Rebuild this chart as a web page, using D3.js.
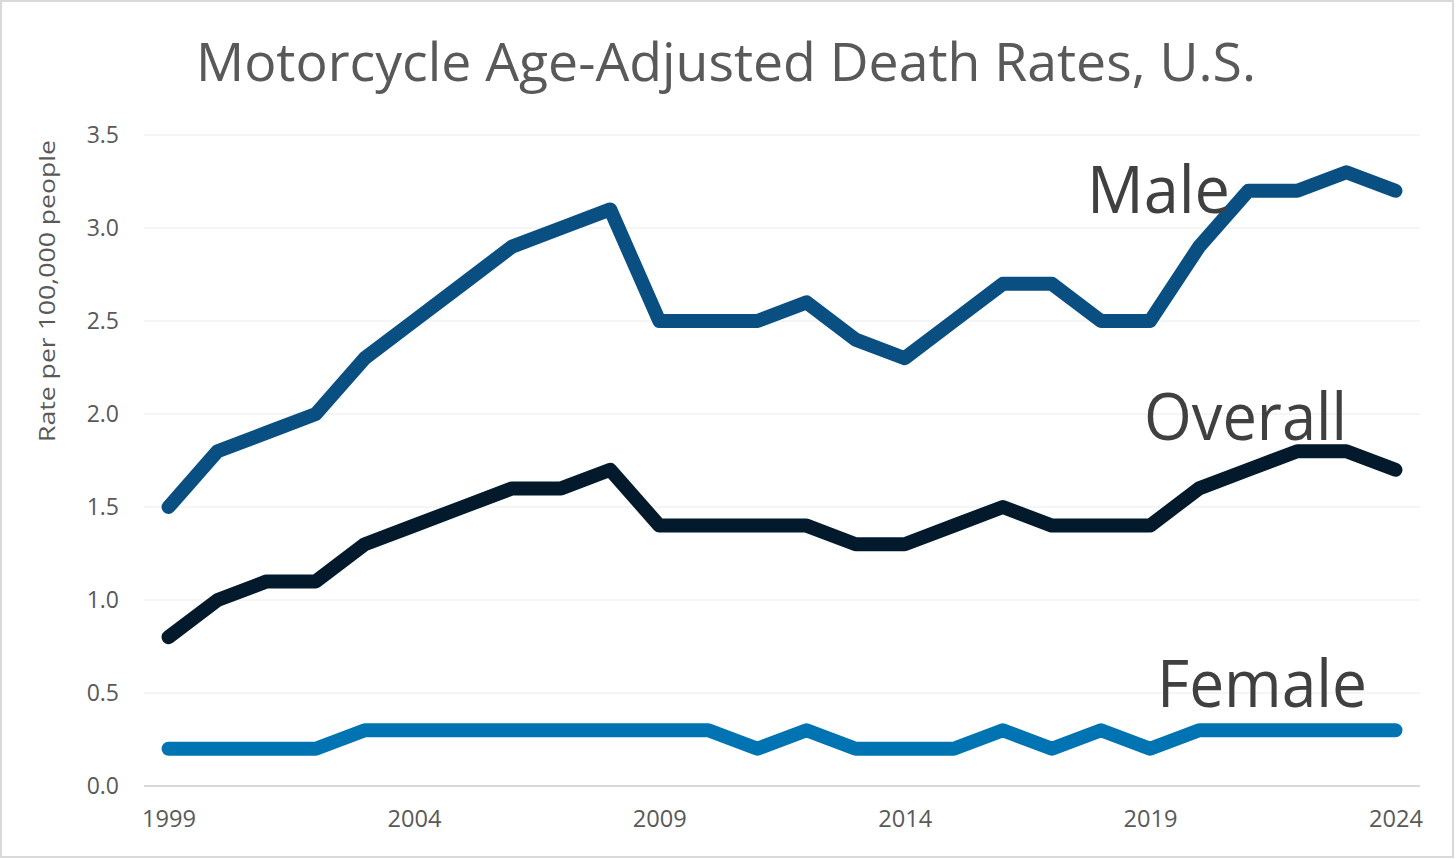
<!DOCTYPE html>
<html>
<head>
<meta charset="utf-8">
<script src="https://cdn.jsdelivr.net/npm/d3@7"></script>
<style>
  body { margin: 0; background: #fff; }
  svg { display: block; }
</style>
</head>
<body>
<svg id="chart" width="1456" height="859"></svg>
<script>
// data
var years = d3.range(1999, 2025);
var male = [1.5, 1.8, 1.9, 2.0, 2.3, 2.5, 2.7, 2.9, 3.0, 3.1, 2.5, 2.5, 2.5, 2.6, 2.4, 2.3, 2.5, 2.7, 2.7, 2.5, 2.5, 2.9, 3.2, 3.2, 3.3, 3.2];
var overall = [0.8, 1.0, 1.1, 1.1, 1.3, 1.4, 1.5, 1.6, 1.6, 1.7, 1.4, 1.4, 1.4, 1.4, 1.3, 1.3, 1.4, 1.5, 1.4, 1.4, 1.4, 1.6, 1.7, 1.8, 1.8, 1.7];
var female = [0.2, 0.2, 0.2, 0.2, 0.3, 0.3, 0.3, 0.3, 0.3, 0.3, 0.3, 0.3, 0.2, 0.3, 0.2, 0.2, 0.2, 0.3, 0.2, 0.3, 0.2, 0.3, 0.3, 0.3, 0.3, 0.3];
var yTicks = [0, 0.5, 1.0, 1.5, 2.0, 2.5, 3.0, 3.5];
var xTicks = [1999, 2004, 2009, 2014, 2019, 2024];

var svg = d3.select("#chart"),
    width = +svg.attr("width"),
    height = +svg.attr("height");

var font = "'Open Sans', 'Noto Sans', sans-serif";

// outer frame
svg.append("rect")
    .attr("x", 1).attr("y", 1)
    .attr("width", width - 4).attr("height", height - 3)
    .attr("fill", "#fff")
    .attr("stroke", "#d9d9d9")
    .attr("stroke-width", 2);

var x = d3.scalePoint()
    .domain(years)
    .range([144, 1420])
    .padding(0.5);

var y = d3.scaleLinear()
    .domain([0, 3.5])
    .range([786, 135]);

// gridlines
svg.append("g")
    .selectAll("line")
    .data(yTicks.filter(function (d) { return d > 0; }))
    .enter()
    .append("line")
    .attr("x1", 144).attr("x2", 1420)
    .attr("y1", function (d) { return y(d); })
    .attr("y2", function (d) { return y(d); })
    .attr("stroke", "#ebebeb")
    .attr("stroke-width", 1);

// y axis labels
var yAxis = svg.append("g")
    .attr("transform", "translate(119,0)")
    .call(d3.axisLeft(y).tickValues(yTicks).tickFormat(d3.format(".1f")).tickSize(0).tickPadding(0));
yAxis.select(".domain").remove();
yAxis.selectAll("text")
    .attr("font-family", font)
    .attr("font-size", 23)
    .attr("fill", "#595959");

// x axis
var xAxis = svg.append("g")
    .attr("transform", "translate(0," + y(0) + ")")
    .call(d3.axisBottom(x).tickValues(xTicks).tickSize(0).tickPadding(25));
xAxis.select(".domain")
    .attr("d", "M144,0H1420")
    .attr("stroke", "#d9d9d9")
    .attr("stroke-width", 2);
xAxis.selectAll("text")
    .attr("font-family", font)
    .attr("font-size", 23)
    .attr("fill", "#595959")
    .attr("textLength", 54)
    .attr("lengthAdjust", "spacingAndGlyphs");

// y axis title
svg.append("text")
    .attr("transform", "translate(55,291) rotate(-90)")
    .attr("text-anchor", "middle")
    .attr("font-family", font)
    .attr("font-size", 22)
    .attr("fill", "#595959")
    .attr("textLength", 302)
    .attr("lengthAdjust", "spacingAndGlyphs")
    .text("Rate per 100,000 people");

// title
svg.append("text")
    .attr("x", 196)
    .attr("y", 81)
    .attr("font-family", font)
    .attr("font-size", 53)
    .attr("fill", "#595959")
    .attr("textLength", 1060)
    .attr("lengthAdjust", "spacingAndGlyphs")
    .text("Motorcycle Age-Adjusted Death Rates, U.S.");

// lines
var line = d3.line()
    .x(function (d, i) { return x(years[i]); })
    .y(function (d) { return y(d); });

var series = [
    { name: "Male", values: male, color: "#0a4f82", lx: 1087, ly: 213, lw: 143 },
    { name: "Overall", values: overall, color: "#021a2c", lx: 1144, ly: 440, lw: 203 },
    { name: "Female", values: female, color: "#0074b2", lx: 1157, ly: 707, lw: 210 }
];

svg.append("g")
    .selectAll("path")
    .data(series)
    .enter()
    .append("path")
    .attr("d", function (d) { return line(d.values); })
    .attr("fill", "none")
    .attr("stroke", function (d) { return d.color; })
    .attr("stroke-width", 14)
    .attr("stroke-linejoin", "round")
    .attr("stroke-linecap", "round");

// series labels
svg.append("g")
    .selectAll("text")
    .data(series)
    .enter()
    .append("text")
    .attr("x", function (d) { return d.lx; })
    .attr("y", function (d) { return d.ly; })
    .attr("font-family", font)
    .attr("font-size", 66)
    .attr("fill", "#404040")
    .attr("textLength", function (d) { return d.lw; })
    .attr("lengthAdjust", "spacingAndGlyphs")
    .text(function (d) { return d.name; });
</script>
</body>
</html>
